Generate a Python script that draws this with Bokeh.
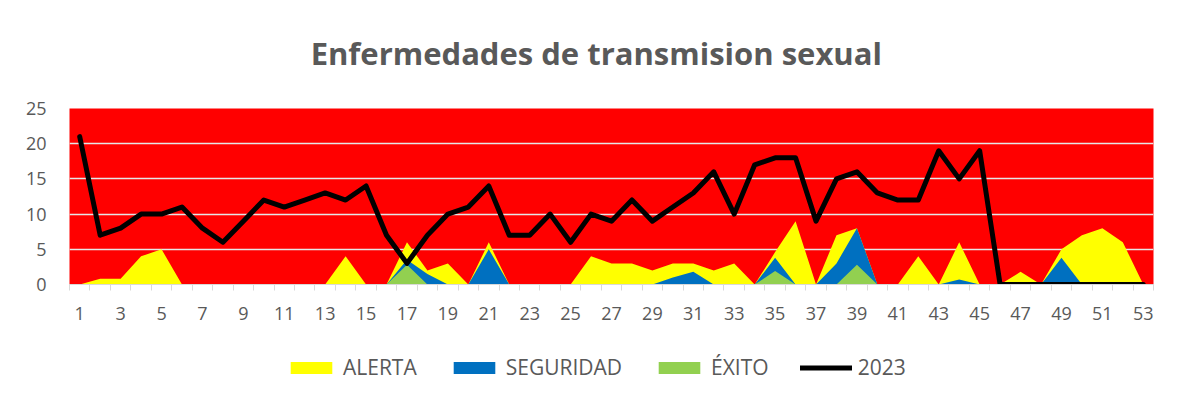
from bokeh.plotting import figure
from bokeh.layouts import column
from bokeh.models import Range1d, FixedTicker, Legend, LegendItem
from bokeh.core.properties import value
from bokeh.embed import file_html
from bokeh.resources import INLINE

weeks = list(range(1, 54))
alerta = [0, 0.8, 0.8, 4, 5, 0, 0, 0, 0, 0, 0, 0, 0, 4, 0, 0, 6, 2, 3, 0,
          6, 0, 0, 0, 0, 4, 3, 3, 2, 3, 3, 2, 3, 0, 4.6, 9, 0, 7, 8, 0,
          0, 4, 0, 6, 0, 0, 1.8, 0, 5, 7, 8, 6, 0]
seguridad = [0, 0, 0, 0, 0, 0, 0, 0, 0, 0, 0, 0, 0, 0, 0, 0, 3.5, 1.5, 0, 0,
             5, 0, 0, 0, 0, 0, 0, 0, 0, 1, 1.8, 0, 0, 0, 3.8, 0, 0, 3, 8, 0,
             0, 0, 0, 0.7, 0, 0, 0, 0, 3.8, 0, 0, 0, 0]
exito = [0, 0, 0, 0, 0, 0, 0, 0, 0, 0, 0, 0, 0, 0, 0, 0, 2.8, 0, 0, 0,
         0, 0, 0, 0, 0, 0, 0, 0, 0, 0, 0, 0, 0, 0, 1.9, 0, 0, 0, 2.8, 0,
         0, 0, 0, 0, 0, 0, 0, 0, 0, 0, 0, 0, 0]
casos_2023 = [21, 7, 8, 10, 10, 11, 8, 6, 9, 12, 11, 12, 13, 12, 14, 7, 3, 7, 10, 11,
              14, 7, 7, 10, 6, 10, 9, 12, 9, 11, 13, 16, 10, 17, 18, 18, 9, 15, 16, 13,
              12, 12, 19, 15, 19, 0, 0, 0, 0, 0, 0, 0, 0]
series_names = ["ALERTA", "SEGURIDAD", "ÉXITO", "2023"]
title_text = "Enfermedades de transmision sexual"
x_labels = list(range(1, 54, 2))
y_ticks = [0, 5, 10, 15, 20, 25]

GRAY = "#595959"
FONT = "Open Sans"
C_AL, C_SE, C_EX = "#FFFF00", "#0070C0", "#92D050"
W = 1173


def strip(h):
    f = figure(width=W, height=h, output_backend="svg", toolbar_location=None,
               x_range=Range1d(0, W), y_range=Range1d(0, h),
               x_axis_location=None, y_axis_location=None,
               min_border_left=0, min_border_right=0, min_border_top=0, min_border_bottom=0)
    f.grid.visible = False
    f.outline_line_color = None
    return f


# title strip
p0 = strip(96)
p0.text(x=[570], y=[44], text=[title_text], text_font=value(FONT), text_font_style="bold",
        text_font_size="31px", text_color=GRAY, text_align="center", text_baseline="middle")

# main chart
p = figure(frame_width=1084, frame_height=176, output_backend="svg",
           toolbar_location=None, x_range=Range1d(0.5, 53.5), y_range=Range1d(0, 25),
           min_border_left=69, min_border_right=20, min_border_top=12, min_border_bottom=50)
p.background_fill_color = "#FF0000"
p.border_fill_color = "white"
p.outline_line_color = None

p.varea(x=weeks, y1=0, y2=alerta, fill_color=C_AL)
p.varea(x=weeks, y1=0, y2=seguridad, fill_color=C_SE)
p.varea(x=weeks, y1=0, y2=exito, fill_color=C_EX)
p.line(x=weeks, y=casos_2023, line_color="black", line_width=5,
       line_join="round", line_cap="round")

p.xgrid.visible = False
p.ygrid.ticker = FixedTicker(ticks=y_ticks)
p.ygrid.grid_line_color = "#E6E6E6"
p.ygrid.grid_line_width = 1.5

xa = p.xaxis[0]
xa.ticker = FixedTicker(ticks=x_labels, minor_ticks=[w - 0.5 for w in weeks] + [53.5])
xa.axis_line_color = "#D9D9D9"
xa.major_tick_line_color = None
xa.minor_tick_line_color = "#D9D9D9"
xa.minor_tick_in = 0
xa.minor_tick_out = 6
xa.major_label_text_font = FONT
xa.major_label_text_font_size = "18px"
xa.major_label_text_color = GRAY
xa.major_label_standoff = 16

ya = p.yaxis[0]
ya.ticker = FixedTicker(ticks=y_ticks)
ya.axis_line_color = None
ya.major_tick_line_color = None
ya.minor_tick_line_color = None
ya.major_label_text_font = FONT
ya.major_label_text_font_size = "18px"
ya.major_label_text_color = GRAY
ya.major_label_standoff = 17

# legend strip (proxy renderers lie outside the strip's visible range)
p2 = strip(60)
p2.x_range = Range1d(100, 200)
l_al = p2.varea(x=weeks, y1=0, y2=alerta, fill_color=C_AL)
l_se = p2.varea(x=weeks, y1=0, y2=seguridad, fill_color=C_SE)
l_ex = p2.varea(x=weeks, y1=0, y2=exito, fill_color=C_EX)
l_ln = p2.line(x=weeks, y=casos_2023, line_color="black", line_width=5, line_cap="round")

legend = Legend(items=[LegendItem(label=n, renderers=[r])
                       for n, r in zip(series_names, [l_al, l_se, l_ex, l_ln])],
                orientation="horizontal", location=(216, 13))
legend.glyph_width = 52
legend.glyph_height = 15
legend.label_text_font = FONT
legend.label_text_font_size = "21px"
legend.label_text_color = GRAY
legend.label_standoff = 6
legend.spacing = 31
legend.border_line_color = None
legend.background_fill_alpha = 0
legend.margin = 0
legend.padding = 0
p2.add_layout(legend, "center")

open("out.html", "w").write(file_html(column(p0, p, p2, spacing=0), INLINE))
